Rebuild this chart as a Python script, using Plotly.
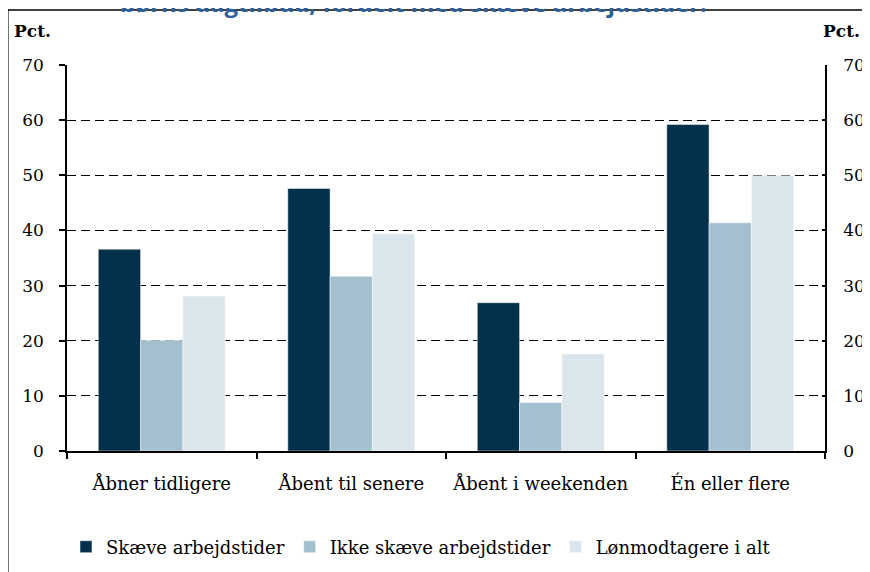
import plotly.graph_objects as go

categories = ["Åbner tidligere", "Åbent til senere", "Åbent i weekenden", "Én eller flere"]
skaeve = [36.6, 47.6, 26.9, 59.2]
ikke_skaeve = [20.1, 31.7, 8.8, 41.4]
loenmodtagere = [28.1, 39.4, 17.6, 49.9]
series_names = ["Skæve arbejdstider", "Ikke skæve arbejdstider", "Lønmodtagere i alt"]
y_ticks = [0, 10, 20, 30, 40, 50, 60, 70]

colors = ["#03304a", "#a4bfcd", "#dae5ec"]
FONT = "DejaVu Serif"

fig = go.Figure()
for name, vals, col in zip(series_names, [skaeve, ikke_skaeve, loenmodtagere], colors):
    fig.add_trace(go.Bar(x=categories, y=vals, name=name,
                         marker=dict(color=col, line=dict(color="white", width=0.5))))

# invisible trace for right axis
fig.add_trace(go.Scatter(x=categories, y=[None] * 4, yaxis="y2", showlegend=False, hoverinfo="skip"))

# page offset (body margin of the html page)
OFF = 8
W, H = 870 - OFF, 572 - OFF
# plot area in reference page pixels
PX0, PX1, PY0, PY1 = 67, 825, 65, 451
L = PX0 - OFF
T = PY0 - OFF
R = W - (PX1 - OFF)
B = H - (PY1 - OFF)
pw, ph = PX1 - PX0, PY1 - PY0


def px_x(x):
    return (x - PX0) / pw


def px_y(y):
    return 1 - (y - PY0) / ph


fig.update_layout(
    width=W, height=H,
    margin=dict(l=L, r=R, t=T, b=B, autoexpand=False),
    paper_bgcolor="white", plot_bgcolor="white",
    barmode="group", bargap=0.33, bargroupgap=0,
    font=dict(family=FONT, size=17, color="black"),
    showlegend=True,
    legend=dict(orientation="h", x=px_x(66), y=px_y(547), xanchor="left", yanchor="middle",
                font=dict(family=FONT, size=18), traceorder="normal"),
    xaxis=dict(showline=True, linecolor="black", linewidth=1.5, ticks="outside", ticklen=6,
               tickcolor="black", tickwidth=1.5, tickson="boundaries", ticklabelstandoff=16,
               showgrid=False, automargin=False, tickfont=dict(family=FONT, size=18)),
    yaxis=dict(range=[0, 70], tickvals=y_ticks, showline=True, linecolor="black", linewidth=1.5,
               ticks="outside", ticklen=6, tickcolor="black", tickwidth=1.5,
               showgrid=True, gridcolor="black", griddash="9px,5px", gridwidth=1.2,
               ticklabelstandoff=12, zeroline=False, automargin=False,
               tickfont=dict(family=FONT, size=17)),
    yaxis2=dict(range=[0, 70], tickvals=y_ticks, overlaying="y", side="right", showline=True,
                linecolor="black", linewidth=1.5, ticks="inside", ticklen=3, tickcolor="black",
                tickwidth=1.5, showgrid=False, zeroline=False, ticklabelstandoff=13,
                automargin=False, tickfont=dict(family=FONT, size=17)),
    shapes=[
        dict(type="line", xref="paper", yref="paper", x0=px_x(8), x1=px_x(8), y0=px_y(10), y1=px_y(620),
             line=dict(color="#444444", width=1.5)),
        dict(type="line", xref="paper", yref="paper", x0=px_x(8), x1=px_x(920), y0=px_y(10), y1=px_y(10),
             line=dict(color="black", width=1.5)),
    ],
    annotations=[
        dict(text="<b>Pct.</b>", xref="paper", yref="paper", x=px_x(12), y=px_y(31), xanchor="left",
             yanchor="middle", showarrow=False, font=dict(family=FONT, size=17)),
        dict(text="<b>Pct.</b>", xref="paper", yref="paper", x=px_x(862), y=px_y(31), xanchor="right",
             yanchor="middle", showarrow=False, font=dict(family=FONT, size=17)),
        dict(text="<b>børns dagtilbud, fordelt med skæve arbejdstider.</b>", xref="paper", yref="paper",
             x=px_x(413), y=px_y(21), xanchor="center", yanchor="bottom", showarrow=False,
             font=dict(family="Open Sans", size=24, color="#2f5f98")),
    ],
)

fig.write_html("out.html")
